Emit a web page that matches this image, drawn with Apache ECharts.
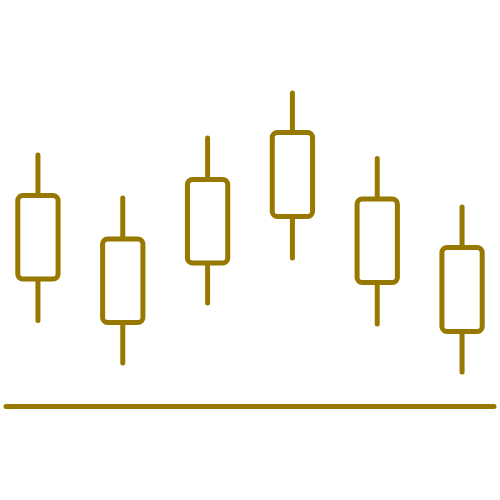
<!DOCTYPE html>
<html>
<head>
<meta charset="utf-8">
<script src="https://cdn.jsdelivr.net/npm/echarts@6/dist/echarts.min.js"></script>
<style>html,body{margin:0;padding:0;background:#fff}#chart{width:500px;height:500px}</style>
</head>
<body>
<div id="chart"></div>
<script>
// candle data: position, open(body bottom), close(body top), low, high
const positions = [0, 1, 2, 3, 4, 5];
const bodyLow  = [12.7, 8.35, 14.3, 18.95, 12.35, 7.45];
const bodyHigh = [21.05, 16.7, 22.65, 27.35, 20.7, 15.85];
const lows  = [8.55, 4.3, 10.3, 14.8, 8.2, 3.4];
const highs = [25.1, 20.8, 26.8, 31.3, 24.75, 19.9];

const gold = '#977800';

const data = positions.map((p, i) => [p, bodyLow[i], bodyHigh[i], lows[i], highs[i]]);

const chart = echarts.init(document.getElementById('chart'));

const renderItem = (params, api) => {
  const x = api.value(0);
  const top = api.coord([x, api.value(2)]);
  const bot = api.coord([x, api.value(1)]);
  const hi = api.coord([x, api.value(4)]);
  const lo = api.coord([x, api.value(3)]);
  const w = api.size([1, 0])[0] * 0.475;
  const style = { stroke: gold, lineWidth: 5, fill: null, lineCap: 'round' };
  return {
    type: 'group',
    children: [
      { type: 'line', shape: { x1: hi[0], y1: hi[1], x2: top[0], y2: top[1] }, style: style },
      { type: 'line', shape: { x1: bot[0], y1: bot[1], x2: lo[0], y2: lo[1] }, style: style },
      {
        type: 'rect',
        shape: { x: top[0] - w / 2, y: top[1], width: w, height: bot[1] - top[1], r: 5 },
        style: { stroke: gold, lineWidth: 5, fill: '#fff' }
      }
    ]
  };
};

chart.setOption({
  animation: false,
  grid: { left: 6, right: 6, top: 6, bottom: 94 },
  xAxis: {
    type: 'value',
    min: -32 / 85,
    max: 5 + 32 / 85,
    axisLine: { show: true, lineStyle: { color: gold, width: 5, cap: 'round' } },
    axisTick: { show: false },
    axisLabel: { show: false },
    splitLine: { show: false }
  },
  yAxis: {
    type: 'value',
    min: 0,
    max: 40,
    show: false
  },
  series: [{
    type: 'custom',
    renderItem: renderItem,
    data: data,
    encode: { x: 0, y: [1, 2, 3, 4] }
  }]
});
</script>
</body>
</html>
